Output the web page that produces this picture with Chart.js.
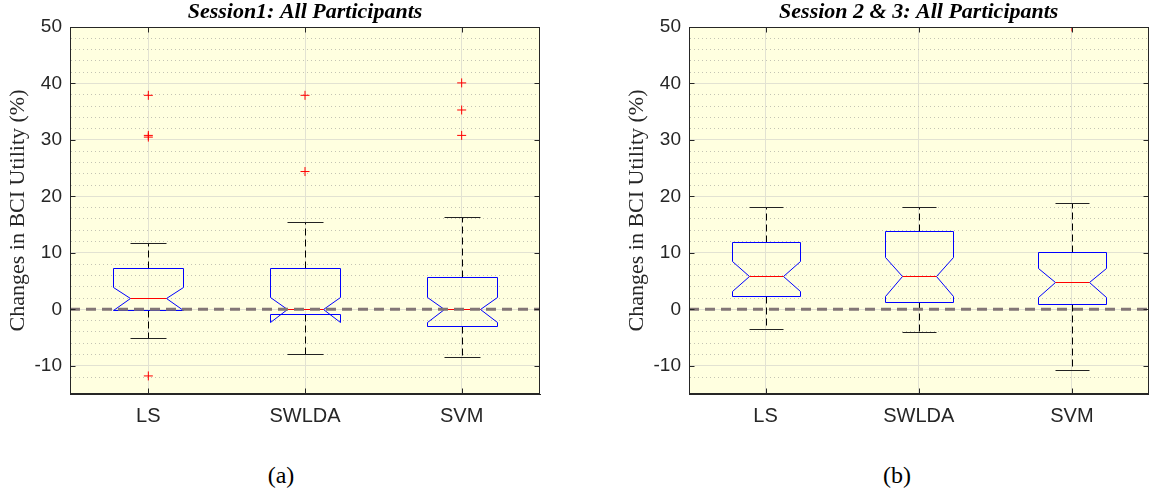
<!DOCTYPE html>
<html>
<head>
<meta charset="utf-8">
<script src="https://cdn.jsdelivr.net/npm/chart.js@4.4.1/dist/chart.umd.min.js"></script>
<style>
body { margin: 0; background: #fff; width: 1154px; height: 492px; overflow: hidden; position: relative; }
.panel { position: absolute; top: 0; width: 577px; height: 440px; }
.caption { position: absolute; top: 461px; width: 100px; text-align: center; font: 24px "Liberation Serif", serif; color: #000; line-height: 28px; }
</style>
</head>
<body>
<div class="panel" style="left:0"><canvas id="chartA" width="577" height="440"></canvas></div>
<div class="panel" style="left:577px"><canvas id="chartB" width="577" height="440"></canvas></div>
<div class="caption" style="left:231px">(a)</div>
<div class="caption" style="left:847px">(b)</div>
<script>
const categories = ['LS', 'SWLDA', 'SVM'];
const yMin = -15;
const yMax = 50;
const yMajorTicks = [-10, 0, 10, 20, 30, 40, 50];

// Session 1
const s1Title = 'Session1: All Participants';
const s1WhiskerLow = [-5.0, -8.0, -8.4];
const s1Q1 = [-0.1, -0.9, -2.9];
const s1NotchLow = [-0.1, -2.2, -2.25];
const s1Median = [2.0, 0.0, 0.0];
const s1NotchHigh = [4.0, 2.1, 2.25];
const s1Q3 = [7.3, 7.3, 5.8];
const s1WhiskerHigh = [11.7, 15.4, 16.4];
const s1Outliers = [[37.9, 30.8, 30.5, -11.8], [37.9, 24.4], [40.1, 35.3, 30.8]];

// Session 2 & 3
const s2Title = 'Session 2 & 3: All Participants';
const s2WhiskerLow = [-3.5, -4.0, -10.8];
const s2Q1 = [2.3, 1.3, 1.0];
const s2NotchLow = [3.3, 2.4, 2.25];
const s2Median = [5.9, 5.9, 4.8];
const s2NotchHigh = [8.55, 9.3, 7.3];
const s2Q3 = [12.0, 13.9, 10.1];
const s2WhiskerHigh = [18.2, 18.2, 18.8];
const s2Outliers = [[], [], [50]];

const axisColor = '#262626';
const majorGrid = '#e2e2d2';
const minorGrid = '#c4c4b4';

function boxPlugin(d) {
    return {
        id: 'notchBoxes',
        beforeDraw(chart) {
            const { ctx, chartArea: a } = chart;
            ctx.save();
            ctx.fillStyle = '#ffffe0';
            ctx.fillRect(a.left, a.top, a.right - a.left, a.bottom - a.top);
            ctx.restore();
        },
        afterDatasetsDraw(chart) {
            const { ctx, chartArea: a, scales: { x, y } } = chart;
            const py = v => Math.round(y.getPixelForValue(v)) + 0.5;
            const unit = x.getPixelForValue(2) - x.getPixelForValue(1);
            const hw = Math.round(unit * 0.225);
            const nw = Math.round(unit * 0.1125);
            const cw = Math.round(unit * 0.112);
            ctx.save();
            ctx.lineWidth = 1;
            categories.forEach((c, i) => {
                const cx = Math.round(x.getPixelForValue(i + 1)) + 0.5;
                // whiskers
                ctx.strokeStyle = '#000';
                ctx.setLineDash([7, 4]);
                ctx.beginPath();
                ctx.moveTo(cx, py(d.q3[i])); ctx.lineTo(cx, py(d.whiskerHigh[i]));
                ctx.moveTo(cx, py(d.q1[i])); ctx.lineTo(cx, py(d.whiskerLow[i]));
                ctx.stroke();
                ctx.setLineDash([]);
                ctx.strokeStyle = '#222';
                ctx.beginPath();
                ctx.moveTo(cx - cw, py(d.whiskerHigh[i])); ctx.lineTo(cx + cw, py(d.whiskerHigh[i]));
                ctx.moveTo(cx - cw, py(d.whiskerLow[i])); ctx.lineTo(cx + cw, py(d.whiskerLow[i]));
                ctx.stroke();
                // notched box
                ctx.strokeStyle = '#0000ff';
                ctx.beginPath();
                ctx.moveTo(cx - hw, py(d.q3[i]));
                ctx.lineTo(cx + hw, py(d.q3[i]));
                ctx.lineTo(cx + hw, py(d.notchHigh[i]));
                ctx.lineTo(cx + nw, py(d.median[i]));
                ctx.lineTo(cx + hw, py(d.notchLow[i]));
                ctx.lineTo(cx + hw, py(d.q1[i]));
                ctx.lineTo(cx - hw, py(d.q1[i]));
                ctx.lineTo(cx - hw, py(d.notchLow[i]));
                ctx.lineTo(cx - nw, py(d.median[i]));
                ctx.lineTo(cx - hw, py(d.notchHigh[i]));
                ctx.closePath();
                ctx.stroke();
                // median
                ctx.strokeStyle = '#ff0000';
                ctx.beginPath();
                ctx.moveTo(cx - nw, py(d.median[i]));
                ctx.lineTo(cx + nw, py(d.median[i]));
                ctx.stroke();
            });
            // zero reference line
            const y0 = y.getPixelForValue(0);
            ctx.strokeStyle = '#827676';
            ctx.lineWidth = 3;
            ctx.setLineDash([10, 6]);
            ctx.beginPath();
            ctx.moveTo(a.left, y0);
            ctx.lineTo(a.right, y0);
            ctx.stroke();
            ctx.restore();
        },
        afterDraw(chart) {
            const { ctx, chartArea: a, scales: { x, y } } = chart;
            ctx.save();
            ctx.strokeStyle = axisColor;
            ctx.lineWidth = 1;
            const l = Math.round(a.left) + 0.5, r = Math.round(a.right) - 0.5;
            const t = Math.round(a.top) + 0.5, b = Math.round(a.bottom) - 0.5;
            ctx.strokeRect(l, t, r - l, b - t);
            ctx.beginPath();
            yMajorTicks.forEach(v => {
                const yy = Math.round(y.getPixelForValue(v)) + 0.5;
                ctx.moveTo(l, yy); ctx.lineTo(l + 5, yy);
                ctx.moveTo(r, yy); ctx.lineTo(r - 5, yy);
            });
            categories.forEach((c, i) => {
                const xx = Math.round(x.getPixelForValue(i + 1)) + 0.5;
                ctx.moveTo(xx, t); ctx.lineTo(xx, t + 5);
                ctx.moveTo(xx, b); ctx.lineTo(xx, b - 5);
            });
            ctx.stroke();
            ctx.fillStyle = '#000';
            ctx.font = 'italic bold 22px "Liberation Serif"';
            ctx.textAlign = 'center';
            ctx.textBaseline = 'alphabetic';
            ctx.fillText(d.title, (a.left + a.right) / 2, 18);
            ctx.restore();
        }
    };
}

function makeChart(canvasId, d) {
    const points = [];
    d.outliers.forEach((list, i) => list.forEach(v => points.push({ x: i + 1, y: v })));

    return new Chart(document.getElementById(canvasId), {
        type: 'scatter',
        data: {
            datasets: [{
                data: points,
                pointStyle: 'cross',
                pointRadius: 4.5,
                pointBorderColor: '#ff0000',
                pointBorderWidth: 1,
                clip: 0
            }]
        },
        options: {
            responsive: false,
            animation: false,
            events: [],
            layout: { padding: { top: 27, right: d.padRight, left: 0, bottom: 0 } },
            plugins: { legend: { display: false }, tooltip: { enabled: false } },
            scales: {
                x: {
                    type: 'linear',
                    min: 0.5,
                    max: 3.5,
                    afterBuildTicks: s => { s.ticks = categories.map((c, i) => ({ value: i + 1 })); },
                    afterFit: s => { s.height = 46; },
                    ticks: {
                        autoSkip: false,
                        maxRotation: 0,
                        padding: 10,
                        color: axisColor,
                        font: { family: 'Liberation Sans', size: 20 },
                        callback: (v, i) => categories[i]
                    },
                    grid: { drawTicks: false, color: majorGrid },
                    border: { color: axisColor }
                },
                y: {
                    min: yMin,
                    max: yMax,
                    afterFit: s => { s.width = d.axisWidth; },
                    ticks: {
                        stepSize: 2,
                        autoSkip: false,
                        padding: 8,
                        color: axisColor,
                        font: { family: 'Liberation Sans', size: 19 },
                        callback: v => (v % 10 === 0 ? String(v) : '')
                    },
                    grid: {
                        drawTicks: false,
                        color: c => (c.tick && c.tick.value % 10 === 0) ? majorGrid : minorGrid
                    },
                    border: {
                        color: axisColor,
                        dash: c => (c.tick && c.tick.value % 10 !== 0) ? [1, 3] : []
                    },
                    title: {
                        display: true,
                        text: 'Changes in BCI Utility (%)',
                        color: axisColor,
                        font: { family: 'Liberation Serif', size: 22 },
                        padding: { top: d.titlePad, bottom: 0 }
                    }
                }
            }
        },
        plugins: [boxPlugin(d)]
    });
}

makeChart('chartA', {
    title: s1Title, q1: s1Q1, q3: s1Q3, median: s1Median, notchLow: s1NotchLow, notchHigh: s1NotchHigh,
    whiskerLow: s1WhiskerLow, whiskerHigh: s1WhiskerHigh, outliers: s1Outliers,
    axisWidth: 70, padRight: 37, titlePad: 5.5
});
makeChart('chartB', {
    title: s2Title, q1: s2Q1, q3: s2Q3, median: s2Median, notchLow: s2NotchLow, notchHigh: s2NotchHigh,
    whiskerLow: s2WhiskerLow, whiskerHigh: s2WhiskerHigh, outliers: s2Outliers,
    axisWidth: 112, padRight: 1, titlePad: 47.5
});
</script>
</body>
</html>
